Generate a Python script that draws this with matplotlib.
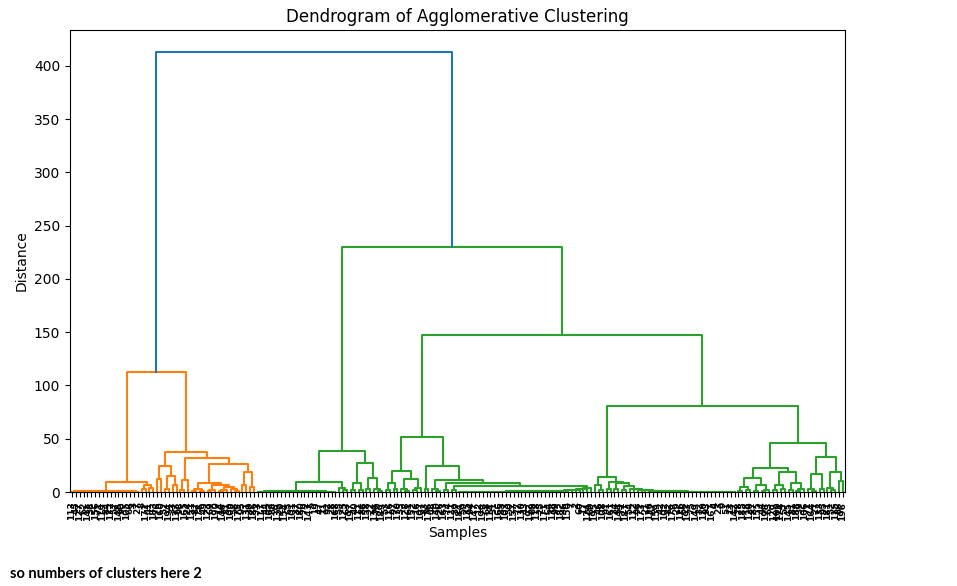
import matplotlib
matplotlib.use('Agg')
import matplotlib.pyplot as plt

# ------------------------------- helpers to write the tree -----------------
# a leaf is 0, a merge is (height, left, right)


def P(h):
    return (h, 0, 0)


def ladder_right(hs):
    node = 0
    for h in hs:
        node = (h, node, 0)
    return node


def ladder_left(hs):
    node = 0
    for h in hs:
        node = (h, 0, node)
    return node


def bal(hs):
    if not hs:
        return 0
    n = len(hs) + 1
    nl = n // 2
    return (hs[0], bal(hs[1:nl]), bal(hs[nl:]))


# ------------------------------- merge heights ------
a_left_h1 = [0.9, 0.5, 0.2, 0.4, 0.3, 0.6, 0.3, 0.5, 0.2]
a_left_h2 = [0.8, 0.4, 0.2, 0.3, 0.5, 0.3, 0.2]
n_left_h1 = [0.8, 0.4, 0.2, 0.3, 0.1, 0.6, 0.3, 0.2, 0.4, 0.2]
n_left_h2 = [0.7, 0.5, 0.2, 0.3, 0.2, 0.4, 0.1, 0.3, 0.2]
y_chain_h = [0.05, 0.1, 0.1, 0.15, 0.2, 0.2, 0.25, 0.3, 0.3, 0.35,
             0.4, 0.4, 0.45, 0.5, 0.5, 0.55, 0.6, 0.6, 0.7, 0.7,
             0.8, 0.8, 0.9, 1.0, 1.0, 1.1, 1.2, 1.3, 1.5, 1.7,
             2.0, 2.4, 2.8, 3.3]
r_chain_h = [0.05, 0.05, 0.1, 0.1, 0.1, 0.15, 0.2, 0.2, 0.25, 0.3,
             0.3, 0.35, 0.4, 0.5, 0.5, 0.6, 0.7, 0.8, 0.9, 1.0,
             1.2, 1.4, 1.6, 1.9, 2.2, 2.5, 2.8]

# ---- orange cluster
a_left = (1.2, bal(a_left_h1), bal(a_left_h2))
a = (9.4, a_left, (6.6, P(3.0), P(4.0)))
c = (24.5, P(12.0), (15.0, P(3.0), P(7.0)))
f = (11.0, P(1.5), 0)
h_right = (6.5, (2.0, P(1.0), 0), (4.5, (1.5, P(0.5), 0), (2.5, 0, P(1.0))))
h_node = (8.7, (2.5, P(1.0), P(0.8)), h_right)
g = (26.3, h_node, (19.0, P(7.0), P(5.0)))
e = (32.0, f, g)
b = (37.9, c, e)
orange = (112.7, a, b)

# ---- green cluster
n_node = (9.7, (1.0, bal(n_left_h1), bal(n_left_h2)), (3.8, 0, P(1.5)))
o = (27.5, (8.8, P(1.5), P(2.0)), (13.5, P(3.0), (2.5, 0, P(1.0))))
m = (38.5, n_node, o)

s = (20.0, (8.8, P(2.0), P(3.0)), (12.0, (3.0, 0, P(1.0)), (4.0, P(1.5), 0)))
y = (5.6, P(1.5), ladder_right(y_chain_h))
x = (8.1, P(2.0), y)
w = (11.3, (2.5, 0, P(1.0)), x)
v = (24.4, P(3.0), w)
r = (51.6, s, v)

r2 = (5.6, P(2.0), ladder_left(r_chain_h))
r1 = (8.1, P(2.5), r2)
ab = (14.4, (7.0, 0, P(2.0)), (9.7, P(3.0), r1))
ad = (13.5, (4.4, P(1.0), P(1.5)), (6.6, P(1.0), (2.0, P(1.0), 0)))
ae = (19.0, (6.6, P(1.5), P(2.5)), (8.8, P(2.0), (3.0, P(1.0), 0)))
af = (33.0, (16.6, (3.0, 0, P(1.0)), P(2.5)),
      (18.5, (4.0, 0, P(1.5)), P(10.0)))
ac = (46.0, (22.8, ad, ae), af)
aa = (80.8, ab, ac)
q = (147.4, r, aa)
green = (230.0, m, q)

tree = (413.0, orange, green)

# leaf labels (sample index), in dendrogram order
leaf_labels = [113, 45, 127, 62, 141, 38, 156, 71, 119, 84,
               132, 57, 148, 90, 105, 66, 3, 27, 8, 172,
               41, 183, 76, 160, 52, 194, 33, 137, 98, 165,
               24, 151, 87, 178, 49, 123, 69, 190, 14, 146,
               81, 109, 58, 175, 95, 131, 30, 186, 73, 117,
               44, 162, 88, 139, 20, 154, 65, 101, 37, 180,
               79, 143, 5, 19, 47, 11, 92, 28, 168, 55,
               125, 63, 197, 40, 111, 86, 158, 22, 134, 70,
               189, 53, 116, 97, 170, 35, 128, 61, 152, 16,
               107, 83, 176, 48, 140, 26, 163, 74, 121, 39,
               184, 59, 135, 94, 147, 12, 199, 68, 114, 31,
               166, 85, 103, 50, 157, 77, 130, 43, 192, 89,
               118, 25, 171, 64, 138, 99, 182, 36, 150, 7,
               2, 60, 17, 124, 80, 195, 46, 108, 91, 161,
               34, 144, 72, 187, 54, 112, 96, 173, 21, 136,
               67, 159, 42, 102, 82, 179, 29, 126, 56, 193,
               75, 149, 32, 110, 93, 167, 4, 23, 9, 51,
               13, 142, 78, 185, 18, 120, 87, 155, 44, 198,
               63, 129, 100, 174, 57, 145, 81, 188, 39, 106,
               71, 164, 27, 133, 95, 181, 52, 115, 86, 196]

# ------------------------------- walk the tree like scipy ------------------
threshold = 0.7 * tree[0]
palette = ['C1', 'C2', 'C3', 'C4', 'C5', 'C6', 'C7', 'C8', 'C9']
links = []
state = {'leaf': 0, 'color': 0}


def walk(node, color):
    if node == 0:
        xpos = 5 + 10 * state['leaf']
        state['leaf'] += 1
        return xpos, 0.0
    h, left, right = node
    if color is None and h < threshold:
        color = palette[state['color'] % len(palette)]
        state['color'] += 1
    xl, hl = walk(left, color)
    xr, hr = walk(right, color)
    links.append(([xl, xl, xr, xr], [hl, h, h, hr], color or 'C0'))
    return (xl + xr) / 2, h


walk(tree, None)
n_leaves = state['leaf']

# ------------------------------- plot --------------------------------------
fig = plt.figure(figsize=(9.57, 5.86), dpi=100)
ax = fig.add_axes([0.0731, 0.1604, 0.8098, 0.7884])

for xs, ys, col in links:
    ax.plot(xs, ys, color=col, lw=1.5)

ax.set_xlim(0, 10 * n_leaves)
ax.set_ylim(0, tree[0] * 1.05)
ax.set_xticks([5 + 10 * i for i in range(n_leaves)])
ax.set_xticklabels([str(lab) for lab in leaf_labels[:n_leaves]],
                   rotation=90, fontsize=6.5, fontweight='bold')

ax.set_title('Dendrogram of Agglomerative Clustering')
ax.set_xlabel('Samples')
ax.set_ylabel('Distance')

fig.text(10 / 957, 1 - 574 / 586, 'so numbers of clusters here 2',
         fontsize=10.5, fontweight='bold', family=['Lato', 'DejaVu Sans'],
         va='center', ha='left')

fig.savefig('out.png', dpi=100)
